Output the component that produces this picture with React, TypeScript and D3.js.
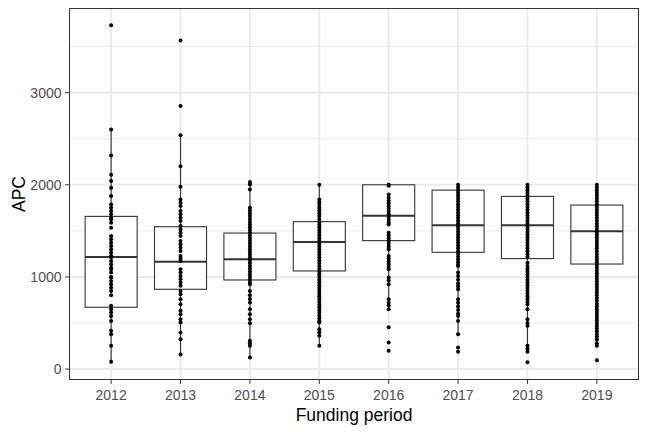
import React from "react";
import * as d3 from "d3";

const years = ["2012", "2013", "2014", "2015", "2016", "2017", "2018", "2019"];
const q1 = [671, 866, 967, 1065, 1394, 1267, 1199, 1140];
const medians = [1216, 1166, 1191, 1379, 1664, 1560, 1560, 1495];
const q3 = [1657, 1545, 1476, 1600, 2000, 1942, 1874, 1780];
const whiskerLow = [79, 159, 127, 252, 650, 379, 188, 252];
const whiskerHigh = [2600, 2537, 2029, 2000, 2000, 2000, 2000, 2000];

const apc2012 = [3730, 2600, 2318, 2109, 2040, 1968, 1877, 1787, 1751, 1715, 1679, 1640, 1625, 1589, 1535, 1444, 1408, 1372, 1336, 1300, 1264, 1230, 1210, 1173, 1137, 1100, 1083, 1047, 1000, 993, 957, 921, 884, 848, 801, 686, 650, 614, 577, 523, 415, 379, 252, 79];
const apc2013 = [3567, 2856, 2537, 2202, 1978, 1841, 1805, 1769, 1715, 1679, 1643, 1607, 1552, 1516, 1480, 1444, 1390, 1354, 1318, 1282, 1227, 1200, 1173, 1083, 1047, 1011, 975, 939, 903, 848, 812, 758, 704, 632, 596, 542, 506, 397, 325, 159];
const apc2014 = [2029, 2004, 1950, 1751, 1720, 1690, 1660, 1630, 1600, 1570, 1540, 1510, 1480, 1450, 1420, 1390, 1360, 1330, 1300, 1270, 1240, 1210, 1180, 1150, 1120, 1090, 1060, 1030, 1000, 970, 940, 921, 848, 800, 760, 722, 650, 596, 542, 498, 307, 280, 252, 127];
const apc2015 = [2000, 1841, 1810, 1780, 1750, 1720, 1690, 1660, 1630, 1600, 1570, 1540, 1510, 1480, 1450, 1420, 1390, 1360, 1330, 1300, 1270, 1240, 1210, 1180, 1150, 1120, 1090, 1060, 1030, 1000, 970, 940, 910, 880, 850, 820, 790, 760, 730, 700, 670, 640, 610, 580, 550, 520, 506, 433, 400, 361, 252];
const apc2016 = [2000, 1990, 1895, 1860, 1830, 1800, 1770, 1740, 1710, 1680, 1650, 1620, 1590, 1570, 1480, 1450, 1420, 1390, 1360, 1330, 1300, 1227, 1200, 1170, 1140, 1110, 1083, 993, 960, 921, 758, 720, 690, 650, 455, 289, 198];
const apc2017 = [2000, 1970, 1940, 1910, 1880, 1850, 1820, 1790, 1760, 1730, 1700, 1670, 1640, 1610, 1580, 1550, 1520, 1490, 1460, 1430, 1400, 1370, 1340, 1310, 1280, 1250, 1220, 1190, 1160, 1130, 1119, 1047, 1010, 970, 930, 900, 866, 758, 720, 680, 640, 600, 577, 523, 379, 235, 188];
const apc2018 = [2000, 1970, 1940, 1910, 1880, 1850, 1820, 1790, 1760, 1730, 1700, 1670, 1640, 1610, 1580, 1550, 1520, 1490, 1460, 1430, 1400, 1370, 1340, 1310, 1280, 1250, 1220, 1155, 1120, 1090, 1060, 1030, 1000, 970, 940, 910, 880, 850, 820, 790, 760, 730, 700, 650, 542, 500, 469, 252, 220, 188, 73];
const apc2019 = [2000, 1970, 1940, 1910, 1880, 1850, 1820, 1790, 1760, 1730, 1700, 1670, 1640, 1610, 1580, 1550, 1520, 1490, 1460, 1430, 1400, 1370, 1340, 1310, 1280, 1250, 1220, 1190, 1160, 1130, 1100, 1070, 1040, 1010, 980, 950, 920, 890, 860, 830, 800, 770, 740, 710, 680, 650, 620, 590, 560, 530, 500, 470, 440, 410, 380, 350, 320, 280, 252, 97];
const pointsByYear = [apc2012, apc2013, apc2014, apc2015, apc2016, apc2017, apc2018, apc2019];

const yTicks = [0, 1000, 2000, 3000];
const yMinor = [500, 1500, 2500, 3500];

const W = 648;
const H = 432;
const left = 69.5;
const right = 638.5;
const top = 8.5;
const bottom = 379.5;
const FONT = "'Liberation Sans', Arial, Helvetica, sans-serif";

export default function App() {
  const x = d3.scaleBand<string>().domain(years).range([left, right]).paddingInner(0).paddingOuter(0.1);
  const y = d3.scaleLinear().domain([-113, 3913]).range([bottom, top]);
  const step = x.step();
  const bw = step * 0.75;
  const cx = (yr: string) => (x(yr) as number) + x.bandwidth() / 2;

  return (
    <svg width={W} height={H} style={{ position: "absolute", left: 0, top: 0, background: "#fff" }}>
      <rect x={0} y={0} width={W} height={H} fill="#fff" />
      {yMinor.map((v) => (
        <line key={"mi" + v} x1={left} x2={right} y1={y(v)} y2={y(v)} stroke="#EBEBEB" strokeWidth={1} />
      ))}
      {yTicks.map((v) => (
        <line key={"ma" + v} x1={left} x2={right} y1={y(v)} y2={y(v)} stroke="#EBEBEB" strokeWidth={2} />
      ))}
      {years.map((yr) => (
        <line key={"vg" + yr} x1={cx(yr)} x2={cx(yr)} y1={top} y2={bottom} stroke="#EBEBEB" strokeWidth={2} />
      ))}
      {years.map((yr, i) => {
        const c = cx(yr);
        return (
          <g key={"b" + yr}>
            <line x1={c} x2={c} y1={y(q3[i])} y2={y(whiskerHigh[i])} stroke="#333" strokeWidth={1.1} />
            <line x1={c} x2={c} y1={y(q1[i])} y2={y(whiskerLow[i])} stroke="#333" strokeWidth={1.1} />
            <rect x={c - bw / 2} y={y(q3[i])} width={bw} height={y(q1[i]) - y(q3[i])} fill="#fff" stroke="#333" strokeWidth={1.1} />
            <line x1={c - bw / 2} x2={c + bw / 2} y1={y(medians[i])} y2={y(medians[i])} stroke="#333" strokeWidth={2} />
          </g>
        );
      })}
      {years.map((yr, i) =>
        pointsByYear[i].map((v, j) => <circle key={yr + "p" + j} cx={cx(yr)} cy={y(v)} r={2} fill="#000" />)
      )}
      <rect x={left} y={top} width={right - left} height={bottom - top} fill="none" stroke="#333" strokeWidth={1} />
      {yTicks.map((v) => (
        <g key={"yt" + v}>
          <line x1={left - 4.4} x2={left} y1={y(v)} y2={y(v)} stroke="#333" strokeWidth={1} />
          <text x={left - 8} y={y(v)} dy="0.36em" textAnchor="end" fontFamily={FONT} fontSize={14} fill="#4D4D4D">
            {v}
          </text>
        </g>
      ))}
      {years.map((yr) => (
        <g key={"xt" + yr}>
          <line x1={cx(yr)} x2={cx(yr)} y1={bottom} y2={bottom + 4.4} stroke="#333" strokeWidth={1} />
          <text x={cx(yr)} y={400} textAnchor="middle" fontFamily={FONT} fontSize={14} fill="#4D4D4D">
            {yr}
          </text>
        </g>
      ))}
      <text x={(left + right) / 2} y={421} textAnchor="middle" fontFamily={FONT} fontSize={17.5} fill="#000">
        Funding period
      </text>
      <text transform={`translate(25,${(top + bottom) / 2}) rotate(-90)`} textAnchor="middle" fontFamily={FONT} fontSize={17.5} fill="#000">
        APC
      </text>
    </svg>
  );
}
